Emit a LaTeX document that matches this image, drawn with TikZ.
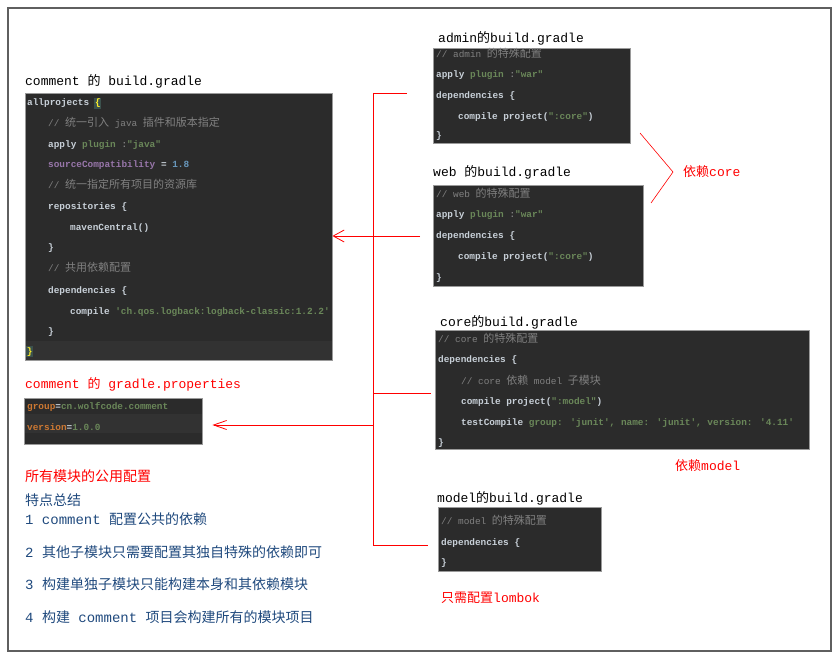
\documentclass[tikz,border=0pt]{standalone}
\usepackage{fontspec}
\usetikzlibrary{arrows.meta}
\newfontfamily\gradlefont{Liberation Mono}
\newfontfamily\cjkfont{Noto Sans CJK SC}
\newcommand{\zh}[1]{{\cjkfont #1}}
\newcommand{\codezh}[1]{{\fontsize{11pt}{11pt}\cjkfont #1}}
\definecolor{darcula}{HTML}{2B2B2B}
\definecolor{rowlight}{HTML}{323232}
\definecolor{boxedge}{HTML}{9A9A9A}
\definecolor{codefg}{HTML}{C8D0D8}
\definecolor{codegray}{HTML}{808080}
\definecolor{codegreen}{HTML}{6A8759}
\definecolor{codepurple}{HTML}{9876AA}
\definecolor{codeblue}{HTML}{6897BB}
\definecolor{codeorange}{HTML}{CC7832}
\definecolor{bracebg}{HTML}{3B514D}
\definecolor{braceyellow}{HTML}{FFEF28}
\definecolor{sumblue}{HTML}{1F497D}
\definecolor{framegray}{HTML}{5F5F5F}

\begin{document}
\begin{tikzpicture}[x=1pt, y=-1pt,
    codebox/.style={draw=boxedge, fill=darcula, anchor=north west, inner sep=0pt},
    code/.style={anchor=base west, inner sep=0pt, text=codefg, font={\fontsize{9.4pt}{11pt}\gradlefont\bfseries}},
    remark/.style={code, text=codegray, font={\fontsize{9.4pt}{11pt}\gradlefont}},
    title/.style={anchor=base west, inner sep=0pt, font={\fontsize{13pt}{15pt}\gradlefont}},
    note/.style={title, text=red},
    summary/.style={anchor=base west, inner sep=0pt, text=sumblue, font={\fontsize{14pt}{16pt}\gradlefont}},
    link/.style={red, line width=0.8pt},
    backarrow/.style={link, -{Straight Barb[length=11pt, width=12pt]}}]
    \useasboundingbox (0,0) rectangle (839,658);
    \draw[framegray, line width=1.6pt] (8,8) rectangle (831,651);

    % comment build.gradle
    \node[title] (T_CM) at (25,86) {comment \zh{的} build.gradle};
    \node[codebox, minimum width=307pt, minimum height=267pt] (B_CM) at (25,93) {};
    \fill[rowlight] (25.5,341) rectangle (331.5,359.5);
    \node[code] (L_CM1) at (27,106) {allprojects};
    \node[code, fill=bracebg, text=braceyellow, inner sep=0.8pt] (L_CM1b) at (94,106) {\{};
    \node[remark] (L_CM2) at (48,127) {// \codezh{统一引入} java \codezh{插件和版本指定}};
    \node[code] (L_CM3) at (48,148) {apply \textcolor{codegreen}{plugin} \textcolor{codegray}{:}\textcolor{codegreen}{"java"}};
    \node[code, text=codepurple] (L_CM4) at (48,168) {sourceCompatibility \textcolor{codefg}{=} \textcolor{codeblue}{1.8}};
    \node[remark] (L_CM5) at (48,189) {// \codezh{统一指定所有项目的资源库}};
    \node[code] (L_CM6) at (48,210) {repositories \{};
    \node[code] (L_CM7) at (70,231) {mavenCentral()};
    \node[code] (L_CM8) at (48,251) {\}};
    \node[remark] (L_CM9) at (48,272) {// \codezh{共用依赖配置}};
    \node[code] (L_CM10) at (48,293) {dependencies \{};
    \node[code] (L_CM11) at (70,314) {compile \textcolor{codegreen}{'ch.qos.logback:logback-classic:1.2.2'}};
    \node[code] (L_CM12) at (48,334) {\}};
    \node[code, fill=bracebg, text=braceyellow, inner sep=0.8pt] (L_CM13) at (26,354) {\}};

    % comment gradle.properties
    \node[note] (T_PR) at (25,388) {comment \zh{的} gradle.properties};
    \node[codebox, minimum width=178pt, minimum height=46pt] (B_PR) at (24,398) {};
    \fill[rowlight] (24.5,414) rectangle (201.5,433);
    \node[code, text=codeorange] (L_PR1) at (27,409) {group\textcolor{codefg}{=}\textcolor{codegreen}{cn.wolfcode.comment}};
    \node[code, text=codeorange] (L_PR2) at (27,430) {version\textcolor{codefg}{=}\textcolor{codegreen}{1.0.0}};

    % summary
    \node[summary, text=red] (S_0) at (25,481) {\zh{所有模块的公用配置}};
    \node[summary] (S_1) at (25,505) {\zh{特点总结}};
    \node[summary] (S_2) at (25,524) {1 comment \zh{配置公共的依赖}};
    \node[summary] (S_3) at (25,557) {2 \zh{其他子模块只需要配置其独自特殊的依赖即可}};
    \node[summary] (S_4) at (25,589) {3 \zh{构建单独子模块只能构建本身和其依赖模块}};
    \node[summary] (S_5) at (25,622) {4 \zh{构建} comment \zh{项目会构建所有的模块项目}};

    % admin
    \node[title] (T_AD) at (438,43) {admin\zh{的}build.gradle};
    \node[codebox, minimum width=197pt, minimum height=95pt] (B_AD) at (433,48) {};
    \node[remark] (L_AD1) at (436,58) {// admin \codezh{的特殊配置}};
    \node[code] (L_AD2) at (436,78) {apply \textcolor{codegreen}{plugin} \textcolor{codegray}{:}\textcolor{codegreen}{"war"}};
    \node[code] (L_AD3) at (436,99) {dependencies \{};
    \node[code] (L_AD4) at (458,120) {compile project(\textcolor{codegreen}{":core"})};
    \node[code] (L_AD5) at (436,139) {\}};

    % web
    \node[title] (T_WB) at (433,177) {web \zh{的}build.gradle};
    \node[codebox, minimum width=210pt, minimum height=101pt] (B_WB) at (433,185) {};
    \node[remark] (L_WB1) at (436,198) {// web \codezh{的特殊配置}};
    \node[code] (L_WB2) at (436,218) {apply \textcolor{codegreen}{plugin} \textcolor{codegray}{:}\textcolor{codegreen}{"war"}};
    \node[code] (L_WB3) at (436,239) {dependencies \{};
    \node[code] (L_WB4) at (458,260) {compile project(\textcolor{codegreen}{":core"})};
    \node[code] (L_WB5) at (436,280) {\}};

    % core
    \node[title] (T_CR) at (440,326) {core\zh{的}build.gradle};
    \node[codebox, minimum width=374pt, minimum height=119pt] (B_CR) at (435,330) {};
    \node[remark] (L_CR1) at (438,342) {// core \codezh{的特殊配置}};
    \node[code] (L_CR2) at (438,362) {dependencies \{};
    \node[remark] (L_CR3) at (461,384) {// core \codezh{依赖} model \codezh{子模块}};
    \node[code] (L_CR4) at (461,404) {compile project(\textcolor{codegreen}{":model"})};
    \node[code] (L_CR5) at (461,425) {testCompile \textcolor{codegreen}{group: 'junit', name: 'junit', version: '4.11'}};
    \node[code] (L_CR6) at (438,445) {\}};

    % model
    \node[title] (T_MD) at (437,502) {model\zh{的}build.gradle};
    \node[codebox, minimum width=163pt, minimum height=64pt] (B_MD) at (438,507) {};
    \node[remark] (L_MD1) at (441,524) {// model \codezh{的特殊配置}};
    \node[code] (L_MD2) at (441,545) {dependencies \{};
    \node[code] (L_MD3) at (441,565) {\}};

    % red notes
    \node[note] (N_CORE) at (683,177) {\zh{依赖}core};
    \node[note] (N_MODEL) at (675,470) {\zh{依赖}model};
    \node[note] (N_LOMBOK) at (441,602) {\zh{只需配置}lombok};

    % connectors
    \coordinate (bus_top) at (373,93);
    \coordinate (bus_bottom) at (373,545);
    \coordinate (bus_props) at (373,425);
    \coordinate (tap_admin) at (407,93);
    \coordinate (tap_web) at (420,236);
    \coordinate (tap_core) at (431,393);
    \coordinate (tap_model) at (428,545);
    \coordinate (brk_top) at (640,133);
    \coordinate (brk_tip) at (673,172);
    \coordinate (brk_bot) at (651,203);

    \draw[link] (bus_top) -- (bus_bottom);
    \draw[link] (bus_top) -- (tap_admin); \draw[link] (bus_props -| bus_top) -- (bus_props);
    \draw[link] (tap_core -| bus_top) -- (tap_core); \draw[link] (bus_bottom) -- (tap_model);
    \draw[backarrow] (tap_web) -- (tap_web -| B_CM.east);
    \draw[backarrow, -{Straight Barb[length=13pt, width=9pt]}] (bus_props) -- ([xshift=10pt]bus_props -| B_PR.east);
    \draw[link, line width=0.6pt] (brk_top) -- (brk_tip) -- (brk_bot);
\end{tikzpicture}
\end{document}
